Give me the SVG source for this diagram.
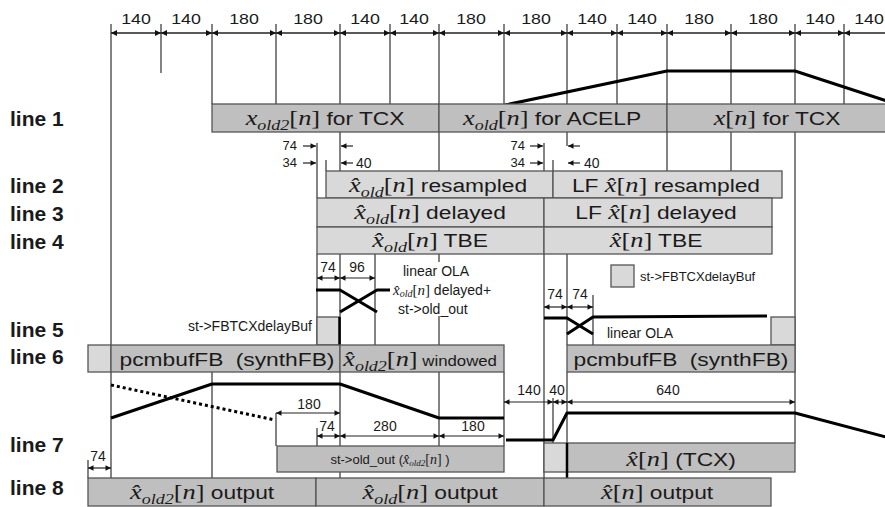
<svg xmlns="http://www.w3.org/2000/svg" width="885" height="507" viewBox="0 0 885 507">
<style>
text { font-family: "Liberation Sans", Arial, sans-serif; fill: #1a1a1a; }
.dig { font-size: 15.5px; text-anchor: middle; }
.row { font-size: 21px; font-weight: bold; }
.bt { font-size: 19px; text-anchor: middle; }
.sx { transform-box: fill-box; transform-origin: center; transform: scaleX(1.2); }
.sx2 { transform-box: fill-box; transform-origin: center; transform: scaleX(1.15); }
.mi { font-family: "Liberation Serif", serif; font-style: italic; font-size: 22px; }
.mu { font-family: "Liberation Serif", serif; font-size: 22px; }
.sb { font-family: "Liberation Serif", serif; font-style: italic; font-size: 15px; }
.sm { font-size: 13px; }
.g { stroke: #333; stroke-width: 1.2; fill: none; }
.w { stroke: #000; stroke-width: 3; fill: none; stroke-linejoin: round; }
.bm { fill: #bfbfbf; stroke: #555; stroke-width: 1.3; }
.bl { fill: #d9d9d9; stroke: #555; stroke-width: 1.3; }
.d { stroke: #222; stroke-width: 1.3; marker-start: url(#ah); marker-end: url(#ah); }
.ds { stroke: #222; stroke-width: 1.2; marker-start: url(#as); marker-end: url(#as); }
.a1 { stroke: #222; stroke-width: 1.2; marker-end: url(#as); }
</style>
<defs>
<marker id="ah" viewBox="0 0 10 10" refX="10" refY="5" markerWidth="8" markerHeight="6" markerUnits="userSpaceOnUse" orient="auto-start-reverse"><path d="M0,0 L10,5 L0,10 z" fill="#111"/></marker>
<marker id="as" viewBox="0 0 10 10" refX="10" refY="5" markerWidth="7" markerHeight="5.5" markerUnits="userSpaceOnUse" orient="auto-start-reverse"><path d="M0,0 L10,5 L0,10 z" fill="#111"/></marker>
</defs>
<rect width="885" height="507" fill="#fff"/>

<g id="connectors">
<path class="g" d="M111,24V478 M161,24V73 M212,24V104 M212,372V478 M276,24V104 M276,413V446 M340,24V478 M390,24V104 M439,24V104 M439,132V171 M439,254V262 M439,316V345 M439,372V446 M504,24V104 M504,372V446 M567,24V104 M567,132V146 M567,254V345 M567,372V443 M617,24V104 M667,24V104 M667,132V171 M731,24V104 M731,132V171 M795,24V104 M795,132V443 M844,24V104"/>
<path class="g" d="M317,143V198 M326,160V171 M544,143V198 M544,254V478 M553,160V171 M553,398V443 M317,254V345 M317,428V446 M375,254V345 M593,295V345 M88,460V478"/>
<line class="d" x1="111" y1="33" x2="161" y2="33"/>
<line class="d" x1="161" y1="33" x2="212" y2="33"/>
<line class="d" x1="212" y1="33" x2="276" y2="33"/>
<line class="d" x1="276" y1="33" x2="340" y2="33"/>
<line class="d" x1="340" y1="33" x2="390" y2="33"/>
<line class="d" x1="390" y1="33" x2="439" y2="33"/>
<line class="d" x1="439" y1="33" x2="504" y2="33"/>
<line class="d" x1="504" y1="33" x2="567" y2="33"/>
<line class="d" x1="567" y1="33" x2="617" y2="33"/>
<line class="d" x1="617" y1="33" x2="667" y2="33"/>
<line class="d" x1="667" y1="33" x2="731" y2="33"/>
<line class="d" x1="731" y1="33" x2="795" y2="33"/>
<line class="d" x1="795" y1="33" x2="844" y2="33"/>
<line class="d" x1="844" y1="33" x2="895" y2="33"/>
<line class="a1" x1="303" y1="146" x2="316" y2="146"/>
<line class="a1" x1="303" y1="163" x2="316" y2="163"/>
<line class="a1" x1="353" y1="146" x2="341" y2="146"/>
<line class="a1" x1="353" y1="163" x2="341" y2="163"/>
<line class="a1" x1="530" y1="146" x2="543" y2="146"/>
<line class="a1" x1="530" y1="163" x2="543" y2="163"/>
<line class="a1" x1="580" y1="146" x2="568" y2="146"/>
<line class="a1" x1="580" y1="163" x2="568" y2="163"/>
<line class="ds" x1="317" y1="278" x2="340" y2="278"/>
<line class="ds" x1="340" y1="278" x2="375" y2="278"/>
<line class="ds" x1="544" y1="307" x2="567" y2="307"/>
<line class="ds" x1="567" y1="307" x2="593" y2="307"/>
<line class="ds" x1="276" y1="413" x2="340" y2="413"/>
<line class="ds" x1="317" y1="436" x2="340" y2="436"/>
<line class="ds" x1="340" y1="436" x2="439" y2="436"/>
<line class="ds" x1="439" y1="436" x2="504" y2="436"/>
<line class="ds" x1="504" y1="402" x2="553" y2="402"/>
<line class="ds" x1="553" y1="402" x2="567" y2="402"/>
<line class="ds" x1="567" y1="402" x2="795" y2="402"/>
<line class="ds" x1="88" y1="468" x2="111" y2="468"/>
<polyline class="w" points="505,105 667,71 795,71 890,102"/>
<polyline class="w" points="316,290 340,290 377,312"/>
<polyline class="w" points="340,312 377,290 390,290"/>
<polyline class="w" points="544,318 567,318 593,334"/>
<polyline class="w" points="567,334 593,317 767,316"/>
<line class="w" x1="111" y1="385" x2="275" y2="420" stroke-dasharray="3 3"/>
<polyline class="w" points="111,418 212,384 340,384 439,418 504,418"/>
<polyline class="w" points="506,440 553,440 567,413 795,413 890,438"/>
</g>

<g id="line1">
<rect class="bm" x="212" y="104" width="227" height="28"/>
<rect class="bm" x="439" y="104" width="228" height="28"/>
<rect class="bm" x="667" y="104" width="222" height="28"/>
<text class="bt sx" x="325" y="125"><tspan class="mi">x</tspan><tspan class="sb" dy="5">old2</tspan><tspan class="mu" dy="-5">[</tspan><tspan class="mi">n</tspan><tspan class="mu">]</tspan> for TCX</text>
<text class="bt sx" x="552" y="125"><tspan class="mi">x</tspan><tspan class="sb" dy="5">old</tspan><tspan class="mu" dy="-5">[</tspan><tspan class="mi">n</tspan><tspan class="mu">]</tspan> for ACELP</text>
<text class="bt sx" x="777" y="125"><tspan class="mi">x</tspan><tspan class="mu">[</tspan><tspan class="mi">n</tspan><tspan class="mu">]</tspan> for TCX</text>
</g>

<g id="line2">
<rect class="bl" x="326" y="171" width="227" height="27"/>
<rect class="bl" x="553" y="171" width="229" height="27"/>
<text class="bt sx" x="438" y="192"><tspan class="mi">x&#x302;</tspan><tspan class="sb" dy="5">old</tspan><tspan class="mu" dy="-5">[</tspan><tspan class="mi">n</tspan><tspan class="mu">]</tspan> resampled</text>
<text class="bt sx" x="666" y="192">LF <tspan class="mi">x&#x302;</tspan><tspan class="mu">[</tspan><tspan class="mi">n</tspan><tspan class="mu">]</tspan> resampled</text>
</g>

<g id="line3">
<rect class="bl" x="317" y="198" width="227" height="29"/>
<rect class="bl" x="544" y="198" width="228" height="29"/>
<text class="bt sx" x="430" y="219"><tspan class="mi">x&#x302;</tspan><tspan class="sb" dy="5">old</tspan><tspan class="mu" dy="-5">[</tspan><tspan class="mi">n</tspan><tspan class="mu">]</tspan> delayed</text>
<text class="bt sx" x="656" y="219">LF <tspan class="mi">x&#x302;</tspan><tspan class="mu">[</tspan><tspan class="mi">n</tspan><tspan class="mu">]</tspan> delayed</text>
</g>

<g id="line4">
<rect class="bl" x="317" y="227" width="227" height="27"/>
<rect class="bl" x="544" y="227" width="228" height="27"/>
<text class="bt sx" x="430" y="247"><tspan class="mi">x&#x302;</tspan><tspan class="sb" dy="5">old</tspan><tspan class="mu" dy="-5">[</tspan><tspan class="mi">n</tspan><tspan class="mu">]</tspan> TBE</text>
<text class="bt sx" x="656" y="247"><tspan class="mi">x&#x302;</tspan><tspan class="mu">[</tspan><tspan class="mi">n</tspan><tspan class="mu">]</tspan> TBE</text>
</g>

<g id="line5">
<rect class="bl" x="317" y="317" width="23" height="28"/>
<line x1="339.5" y1="317" x2="339.5" y2="345" stroke="#000" stroke-width="2.5"/>
<rect class="bl" x="771" y="317" width="24" height="28"/>
<rect class="bl" x="611" y="265" width="23" height="22"/>
<text x="312" y="331" font-size="14" text-anchor="end">st-&gt;FBTCXdelayBuf</text>
<text x="640" y="281" class="sm">st-&gt;FBTCXdelayBuf</text>
<text x="403" y="276" font-size="14">linear OLA</text>
<text x="393" y="295" font-size="14"><tspan font-family="Liberation Serif, serif" font-style="italic" font-size="15">x&#x302;</tspan><tspan font-family="Liberation Serif, serif" font-style="italic" font-size="10" dy="2">old</tspan><tspan font-family="Liberation Serif, serif" font-size="15" dy="-2">[</tspan><tspan font-family="Liberation Serif, serif" font-style="italic" font-size="15">n</tspan><tspan font-family="Liberation Serif, serif" font-size="15">]</tspan> delayed+</text>
<text x="398" y="314" font-size="14">st-&gt;old_out</text>
<text x="607" y="338" font-size="14">linear OLA</text>
<text x="328" y="272" font-size="14" text-anchor="middle">74</text>
<text x="357" y="272" font-size="14" text-anchor="middle">96</text>
<text x="555" y="299" font-size="14" text-anchor="middle">74</text>
<text x="580" y="299" font-size="14" text-anchor="middle">74</text>
</g>

<g id="offsets">
<text x="297" y="150" class="sm" text-anchor="end">74</text>
<text x="297" y="167" class="sm" text-anchor="end">34</text>
<text x="356" y="168" font-size="14">40</text>
<text x="525" y="150" class="sm" text-anchor="end">74</text>
<text x="525" y="167" class="sm" text-anchor="end">34</text>
<text x="584" y="168" font-size="14">40</text>
</g>

<g id="line6">
<rect class="bl" x="88" y="345" width="23" height="27"/>
<rect class="bm" x="111" y="345" width="229" height="27"/>
<rect class="bm" x="340" y="345" width="164" height="27"/>
<rect class="bm" x="567" y="345" width="228" height="27"/>
<text class="bt sx" x="227" y="366">pcmbufFB <tspan dx="5">(synthFB)</tspan></text>
<text class="bt sx" x="420" y="366"><tspan class="mi">x&#x302;</tspan><tspan class="sb" dy="5">old2</tspan><tspan class="mu" dy="-5">[</tspan><tspan class="mi">n</tspan><tspan class="mu">]</tspan><tspan font-size="14"> windowed</tspan></text>
<text class="bt sx" x="681" y="366">pcmbufFB <tspan dx="5">(synthFB)</tspan></text>
</g>

<g id="line7">
<rect class="bm" x="277" y="446" width="227" height="26"/>
<rect class="bl" x="544" y="443" width="23" height="29"/>
<rect class="bm" x="567" y="443" width="228" height="29"/>
<line x1="567" y1="443" x2="567" y2="478" stroke="#000" stroke-width="2.5"/>
<text x="390" y="464" class="sm" text-anchor="middle">st-&gt;old_out (<tspan font-family="Liberation Serif, serif" font-style="italic" font-size="14">x&#x302;</tspan><tspan font-family="Liberation Serif, serif" font-style="italic" font-size="9" dy="2">old2</tspan><tspan font-family="Liberation Serif, serif" font-size="14" dy="-2">[</tspan><tspan font-family="Liberation Serif, serif" font-style="italic" font-size="14">n</tspan><tspan font-family="Liberation Serif, serif" font-size="14">]</tspan> )</text>
<text class="bt sx" x="681" y="466"><tspan class="mi">x&#x302;</tspan><tspan class="mu">[</tspan><tspan class="mi">n</tspan><tspan class="mu">]</tspan> (TCX)</text>
<text x="309" y="409" font-size="14" text-anchor="middle">180</text>
<text x="327" y="431" font-size="14" text-anchor="middle">74</text>
<text x="385" y="431" font-size="14" text-anchor="middle">280</text>
<text x="473" y="431" font-size="14" text-anchor="middle">180</text>
<text x="529" y="395" font-size="14" text-anchor="middle">140</text>
<text x="557" y="395" font-size="14" text-anchor="middle">40</text>
<text x="668" y="395" font-size="14" text-anchor="middle">640</text>
<text x="98" y="461" font-size="14" text-anchor="middle">74</text>
</g>

<g id="line8">
<rect class="bm" x="88" y="478" width="228" height="28"/>
<rect class="bm" x="316" y="478" width="228" height="28"/>
<rect class="bm" x="544" y="478" width="227" height="28"/>
<text class="bt sx" x="202" y="499"><tspan class="mi">x&#x302;</tspan><tspan class="sb" dy="5">old2</tspan><tspan class="mu" dy="-5">[</tspan><tspan class="mi">n</tspan><tspan class="mu">]</tspan> output</text>
<text class="bt sx" x="430" y="499"><tspan class="mi">x&#x302;</tspan><tspan class="sb" dy="5">old</tspan><tspan class="mu" dy="-5">[</tspan><tspan class="mi">n</tspan><tspan class="mu">]</tspan> output</text>
<text class="bt sx" x="657" y="499"><tspan class="mi">x&#x302;</tspan><tspan class="mu">[</tspan><tspan class="mi">n</tspan><tspan class="mu">]</tspan> output</text>
</g>

<g id="topLabels">
<text class="dig sx2" x="136" y="24">140</text>
<text class="dig sx2" x="186" y="24">140</text>
<text class="dig sx2" x="244" y="24">180</text>
<text class="dig sx2" x="308" y="24">180</text>
<text class="dig sx2" x="365" y="24">140</text>
<text class="dig sx2" x="414" y="24">140</text>
<text class="dig sx2" x="471" y="24">180</text>
<text class="dig sx2" x="536" y="24">180</text>
<text class="dig sx2" x="592" y="24">140</text>
<text class="dig sx2" x="642" y="24">140</text>
<text class="dig sx2" x="699" y="24">180</text>
<text class="dig sx2" x="763" y="24">180</text>
<text class="dig sx2" x="820" y="24">140</text>
<text class="dig sx2" x="869" y="24">140</text>
</g>

<g id="rowLabels">
<text class="row" x="10" y="126">line 1</text>
<text class="row" x="10" y="193">line 2</text>
<text class="row" x="10" y="221">line 3</text>
<text class="row" x="10" y="249">line 4</text>
<text class="row" x="10" y="337">line 5</text>
<text class="row" x="10" y="364">line 6</text>
<text class="row" x="10" y="452">line 7</text>
<text class="row" x="10" y="495">line 8</text>
</g>
</svg>
